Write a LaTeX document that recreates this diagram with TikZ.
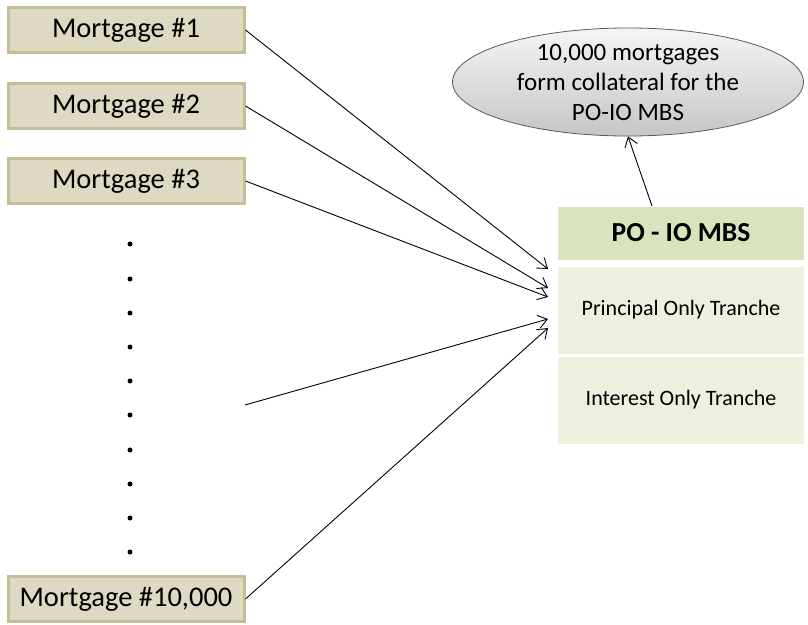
\documentclass[tikz,border=0pt]{standalone}
\usepackage{fontspec}
\setmainfont{Carlito}
\usetikzlibrary{arrows.meta,shapes.geometric}
\definecolor{mfill}{HTML}{DDD9C3}
\definecolor{mborder}{HTML}{C4BD97}
\definecolor{hdfill}{HTML}{D7E4BD}
\definecolor{rowfill}{HTML}{EBF1DE}
\definecolor{elborder}{HTML}{595959}
\tikzset{
  mbox/.style={draw=mborder,line width=3pt,fill=mfill,minimum width=236pt,minimum height=45pt,inner sep=0pt,font=\fontsize{28.5}{32}\selectfont},
  hdbox/.style={fill=hdfill,minimum width=246pt,minimum height=53pt,inner sep=0pt,font=\bfseries\fontsize{27.5}{32}\selectfont},
  rowbox/.style={fill=rowfill,minimum width=246pt,minimum height=87pt,inner sep=0pt,font=\fontsize{22}{26}\selectfont},
  dotmark/.style={circle,fill=black,inner sep=0pt,minimum size=5pt},
  conn/.style={-{Straight Barb[length=9pt,width=13pt,line width=0.9pt]},line width=0.9pt},
}
\begin{document}
\begin{tikzpicture}[x=1pt,y=-1pt]
\useasboundingbox (0,0) rectangle (808,624);
\node[mbox] (m1) at (126,30) {Mortgage \#1};
\node[mbox] (m2) at (126,106) {Mortgage \#2};
\node[mbox] (m3) at (126,181) {Mortgage \#3};
\node[mbox] (m4) at (126,599) {Mortgage \#10,000};
\foreach \i/\yy in {1/244,2/279,3/313,4/347,5/381,6/415,7/450,8/484,9/518,10/552}
  \node[dotmark] (d\i) at (130,\yy) {};
\node[hdbox] (hd) at (681,233) {PO - IO MBS};
\node[rowbox] (r1) at (681,310) {Principal Only Tranche};
\node[rowbox] (r2) at (681,400) {Interest Only Tranche};
\node[ellipse,draw=elborder,line width=0.8pt,shading=axis,top color=gray!8,bottom color=gray!45,
  minimum width=351pt,minimum height=92pt,inner sep=0pt,align=center,
  font=\fontsize{25}{30}\selectfont] (el) at (628,82)
  {10,000 mortgages\\form collateral for the\\PO-IO MBS};
\coordinate (t1) at (548,269);
\coordinate (t2) at (548,288);
\coordinate (t3) at (548,297);
\coordinate (t4) at (548,319);
\coordinate (t5) at (548,328);
\coordinate (s4) at (245,405);
\coordinate (hs) at (652,206);
\draw[conn] (m1.east) -- (t1);
\draw[conn] (m2.east) -- (t2);
\draw[conn] (m3.east) -- (t3);
\draw[conn] (s4) -- (t4);
\draw[conn] (m4.east) -- (t5);
\draw[conn] (hs) -- (el.south);
\end{tikzpicture}
\end{document}
